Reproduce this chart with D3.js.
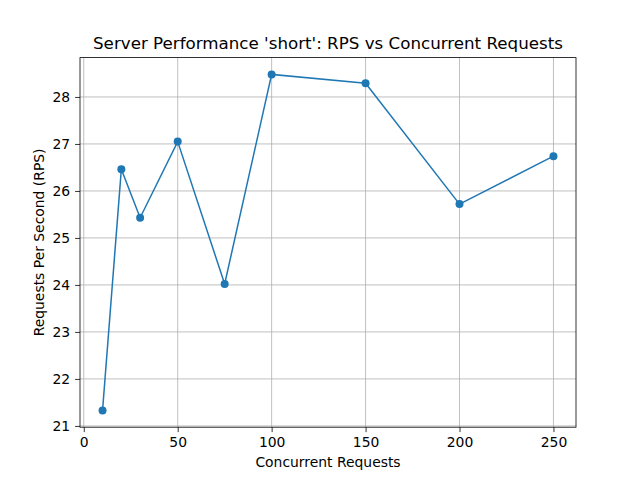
<!DOCTYPE html>
<html><head><meta charset="utf-8">
<script src="https://cdn.jsdelivr.net/npm/d3@7"></script>
<style>body{margin:0;background:#fff}text{font-family:"DejaVu Sans",sans-serif}</style>
</head><body><svg id="c" width="640" height="480"></svg>
<script>
const concurrency = [10, 20, 30, 50, 75, 100, 150, 200, 250];
const rps = [21.33, 26.46, 25.43, 27.05, 24.02, 28.48, 28.29, 25.72, 26.74];
const xTicks = [0, 50, 100, 150, 200, 250];
const yTicks = [21, 22, 23, 24, 25, 26, 27, 28];

const svg = d3.select("#c");
const L = 80, R = 576, T = 57.6, B = 427.2;
const xpad = (d3.max(concurrency) - d3.min(concurrency)) * 0.05;
const ypad = (d3.max(rps) - d3.min(rps)) * 0.05;
const x = d3.scaleLinear().domain([d3.min(concurrency) - xpad, d3.max(concurrency) + xpad]).range([L, R]);
const y = d3.scaleLinear().domain([d3.min(rps) - ypad, d3.max(rps) + ypad]).range([B, T]);

svg.append("g").selectAll("line").data(xTicks).join("line")
  .attr("x1", d => x(d)).attr("x2", d => x(d)).attr("y1", T).attr("y2", B)
  .attr("stroke", "#b0b0b0").attr("stroke-width", 0.8);
svg.append("g").selectAll("line").data(yTicks).join("line")
  .attr("y1", d => y(d)).attr("y2", d => y(d)).attr("x1", L).attr("x2", R)
  .attr("stroke", "#b0b0b0").attr("stroke-width", 0.8);

const xa = svg.append("g").attr("transform", `translate(0,${B})`)
  .call(d3.axisBottom(x).tickValues(xTicks).tickSize(4.9).tickPadding(4.9).tickSizeOuter(0));
const ya = svg.append("g").attr("transform", `translate(${L},0)`)
  .call(d3.axisLeft(y).tickValues(yTicks).tickSize(4.9).tickPadding(4.9).tickSizeOuter(0));
[xa, ya].forEach(a => { a.selectAll("text").attr("font-size", 13.9).attr("fill", "#000").style("font-family", "DejaVu Sans"); a.select(".domain").remove(); a.selectAll("line").attr("stroke", "#000").attr("stroke-width", 0.8); });

svg.append("rect").attr("x", L).attr("y", T).attr("width", R - L).attr("height", B - T)
  .attr("fill", "none").attr("stroke", "#000").attr("stroke-width", 0.8);

const pts = concurrency.map((c, i) => [c, rps[i]]);
svg.append("path").datum(pts)
  .attr("d", d3.line().x(d => x(d[0])).y(d => y(d[1])))
  .attr("fill", "none").attr("stroke", "#1f77b4").attr("stroke-width", 1.5);
svg.append("g").selectAll("circle").data(pts).join("circle")
  .attr("cx", d => x(d[0])).attr("cy", d => y(d[1])).attr("r", 4).attr("fill", "#1f77b4");

svg.append("text").attr("x", (L + R) / 2).attr("y", 49).attr("text-anchor", "middle")
  .attr("font-size", 16.7).text("Server Performance 'short': RPS vs Concurrent Requests");
svg.append("text").attr("x", (L + R) / 2).attr("y", 467).attr("text-anchor", "middle")
  .attr("font-size", 13.9).text("Concurrent Requests");
svg.append("text").attr("transform", `translate(44,${(T + B) / 2}) rotate(-90)`).attr("text-anchor", "middle")
  .attr("font-size", 13.9).text("Requests Per Second (RPS)");
</script></body></html>
